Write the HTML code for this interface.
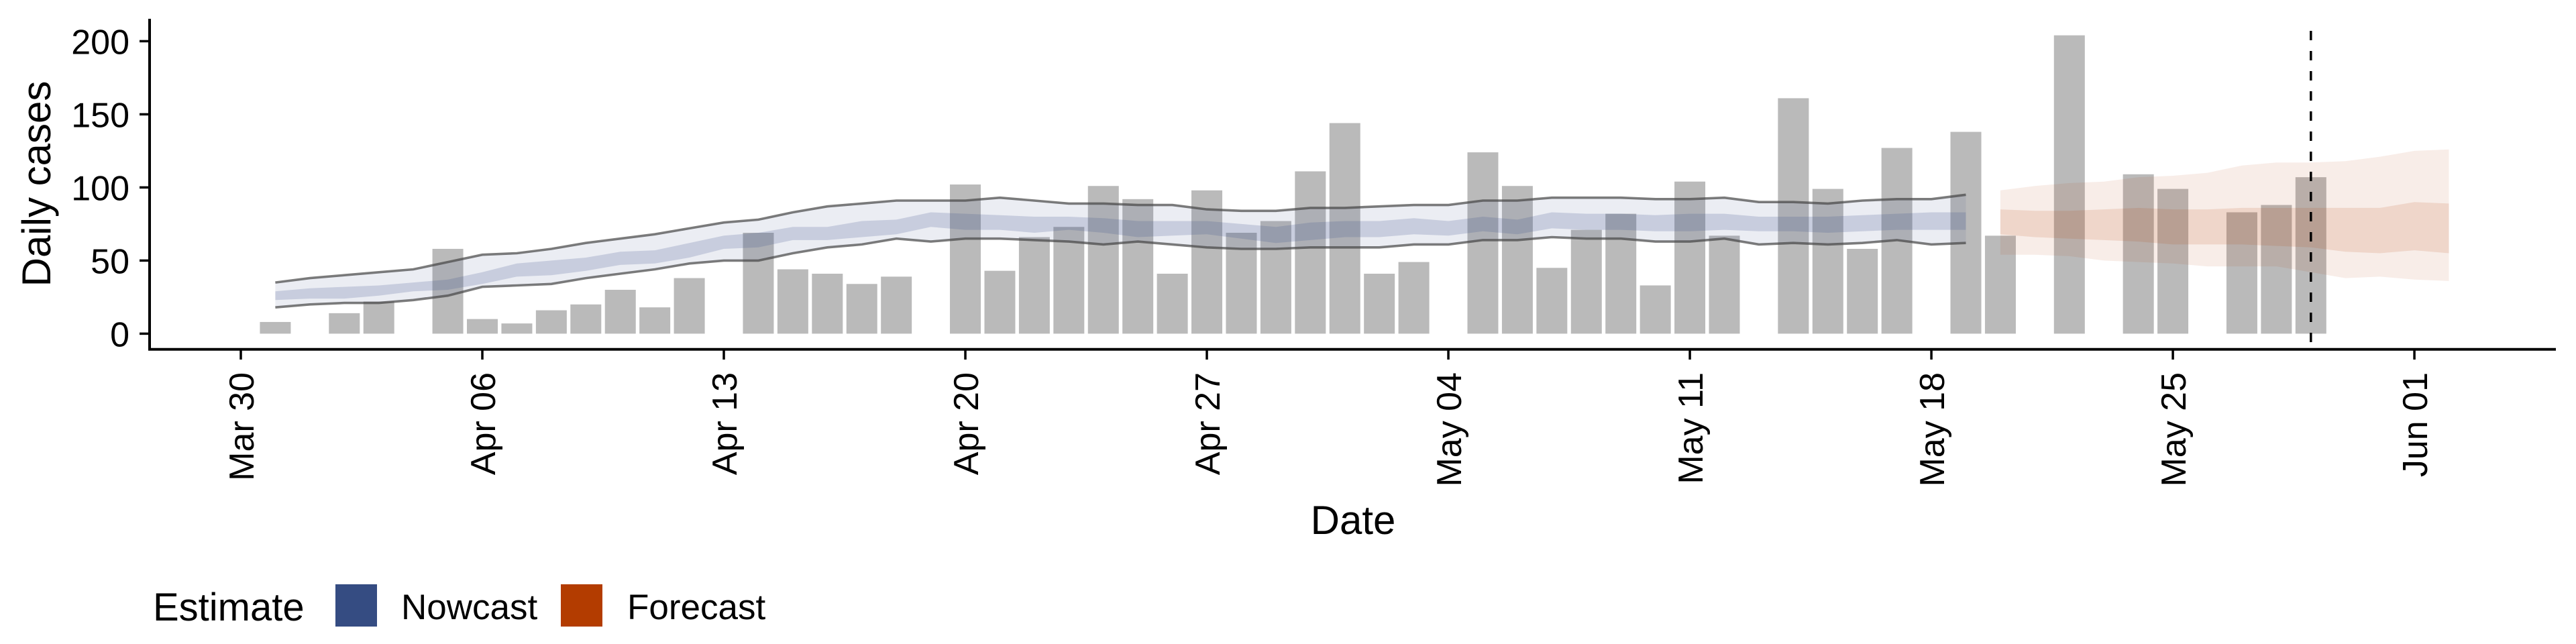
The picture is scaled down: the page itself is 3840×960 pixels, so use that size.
<!DOCTYPE html>
<html><head><meta charset="utf-8">
<style>
html,body{margin:0;padding:0;background:#fff;}
svg{display:block;font-family:"Liberation Sans",Arial,sans-serif;}
</style></head>
<body>
<svg id="chart" width="3840" height="960" viewBox="0 0 3840 960" xmlns="http://www.w3.org/2000/svg">
  <rect width="3840" height="960" fill="#fff"/>
  <g id="bars"></g>
  <g id="ribbons"></g>
  <g id="lines"></g>
  <g id="axes"></g>
  <text x="0" y="0" font-size="60" text-anchor="middle" transform="translate(75,274) rotate(-90)">Daily cases</text>
  <text x="2017" y="796" font-size="60" text-anchor="middle">Date</text>
  <g>
    <text x="228" y="925" font-size="58">Estimate</text>
    <rect x="500" y="871" width="62" height="63" fill="#354C82"/>
    <text x="598" y="923" font-size="53">Nowcast</text>
    <rect x="836" y="871" width="62" height="63" fill="#B33C00"/>
    <text x="935" y="923" font-size="53">Forecast</text>
  </g>
</svg>
<script>
// ---- data ----
const barDays = [1,3,4,6,7,8,9,10,11,12,13,15,16,17,18,19,21,22,23,24,25,26,27,28,29,30,31,32,33,34,36,37,38,39,40,41,42,43,45,46,47,48,50,51,53,55,56,58,59,60];
const barValues = [8,14,22,58,10,7,16,20,30,18,38,69,44,41,34,39,102,43,66,73,101,92,41,98,69,77,111,144,41,49,124,101,45,71,82,33,104,67,161,99,58,127,138,67,204,109,99,83,88,107];
const nowDays = [1,2,3,4,5,6,7,8,9,10,11,12,13,14,15,16,17,18,19,20,21,22,23,24,25,26,27,28,29,30,31,32,33,34,35,36,37,38,39,40,41,42,43,44,45,46,47,48,49,50];
const nowUpper90 = [35,38,40,42,44,49,54,55,58,62,65,68,72,76,78,83,87,89,91,91,91,93,91,89,89,88,88,85,84,84,86,86,87,88,88,91,91,93,93,93,92,92,93,90,90,89,91,92,92,95];
const nowLower90 = [18,20,21,21,23,26,32,33,34,38,41,44,48,50,50,55,59,61,65,63,65,65,64,63,61,63,61,59,58,58,59,59,59,61,61,64,64,66,65,65,63,63,65,61,62,61,62,64,61,62];
const nowUpper50 = [29,31,32,33,35,37,42,48,50,52,56,57,62,67,69,73,73,77,78,83,82,81,80,80,79,77,77,77,75,73,76,77,77,79,77,80,78,83,82,82,81,82,82,80,80,80,81,82,83,83];
const nowLower50 = [23,24,24,26,29,30,34,39,40,43,47,48,52,58,59,64,64,66,68,73,71,71,69,71,69,66,67,68,65,62,64,66,66,68,67,70,68,72,71,71,70,70,71,70,70,69,70,71,71,71];
const foreDays = [51,52,53,54,55,56,57,58,59,60,61,62,63,64];
const foreUpper90 = [98,101,103,104,107,108,110,115,117,117,118,121,125,126];
const foreLower90 = [54,54,53,50,49,48,46,46,46,42,38,39,37,36];
const foreUpper50 = [85,84,84,85,86,85,85,86,86,86,86,86,90,89];
const foreLower50 = [68,66,65,64,63,61,61,61,60,59,56,55,57,55];
const yTicks = [0,50,100,150,200];
const xTickDays = [0,7,14,21,28,35,42,49,56,63];
const xTickLabels = ["Mar 30","Apr 06","Apr 13","Apr 20","Apr 27","May 04","May 11","May 18","May 25","Jun 01"];
const cutoffDay = 60;

// ---- scales ----
const NS = "http://www.w3.org/2000/svg";
function xs(d){ return 359 + 51.43*d; }
function ys(v){ return 497.4 - 2.18*v; }
function mk(tag, attrs, parent){
  const el = document.createElementNS(NS, tag);
  for (const k in attrs) el.setAttribute(k, attrs[k]);
  parent.appendChild(el);
  return el;
}
const gBars = document.getElementById('bars');
const gRib = document.getElementById('ribbons');
const gLines = document.getElementById('lines');
const gAx = document.getElementById('axes');

// bars
barDays.forEach((d,i)=>{
  const v = barValues[i];
  const el = mk('rect', {x: xs(d)-23, y: ys(v), width: 46, height: ys(0)-ys(v), fill: '#bababa'}, gBars);
  
  
});

function ribbon(days, up, lo, color, op, name){
  let p = '';
  days.forEach((d,i)=>{ p += (i?'L':'M') + xs(d).toFixed(1) + ',' + ys(up[i]).toFixed(1); });
  for (let i=days.length-1;i>=0;i--) p += 'L' + xs(days[i]).toFixed(1) + ',' + ys(lo[i]).toFixed(1);
  p += 'Z';
  const el = mk('path', {d: p, fill: color, 'fill-opacity': op}, gRib);
  
  
}
ribbon(nowDays, nowUpper90, nowLower90, '#3B4F8A', 0.1, 'nowcast-90-ribbon');
ribbon(nowDays, nowUpper50, nowLower50, '#3B4F8A', 0.2, 'nowcast-50-ribbon');
ribbon(foreDays, foreUpper90, foreLower90, '#B33C00', 0.09, 'forecast-90-ribbon');
ribbon(foreDays, foreUpper50, foreLower50, '#B33C00', 0.13, 'forecast-50-ribbon');

function line(days, vals, name){
  const pts = days.map((d,i)=> xs(d).toFixed(1)+','+ys(vals[i]).toFixed(1)).join(' ');
  const el = mk('polyline', {points: pts, fill: 'none', stroke: '#444', 'stroke-opacity': 0.7, 'stroke-width': 3.6}, gLines);
  
  
}
line(nowDays, nowUpper90, 'nowcast-upper-line');
line(nowDays, nowLower90, 'nowcast-lower-line');

// cutoff line
const cl = mk('line', {x1: xs(cutoffDay), x2: xs(cutoffDay), y1: 46, y2: 519, stroke: '#000', 'stroke-width': 3.5, 'stroke-dasharray': '14,16'}, gAx);



// axes
const ya = mk('line', {x1: 223, x2: 223, y1: 28, y2: 522, stroke: '#000', 'stroke-width': 4}, gAx);


const xa = mk('line', {x1: 221, x2: 3810, y1: 520.7, y2: 520.7, stroke: '#000', 'stroke-width': 4}, gAx);



yTicks.forEach(v=>{
  const t = mk('line', {x1: 208, x2: 223, y1: ys(v), y2: ys(v), stroke: '#000', 'stroke-width': 3.5}, gAx);
  
  
  const tx = mk('text', {x: 193, y: ys(v)+19, 'font-size': 52, 'text-anchor': 'end', fill: '#000'}, gAx);
  tx.textContent = String(v);
  
  
});
xTickDays.forEach((d,i)=>{
  const x = xs(d);
  const t = mk('line', {x1: x, x2: x, y1: 520, y2: 536, stroke: '#000', 'stroke-width': 3.5}, gAx);
  
  
  const tx = mk('text', {x: 0, y: 0, 'font-size': 52, 'text-anchor': 'end', fill: '#000', transform: 'translate(' + (x+19) + ',555) rotate(-90)'}, gAx);
  tx.textContent = xTickLabels[i];
  
  
});
</script>
</body></html>
